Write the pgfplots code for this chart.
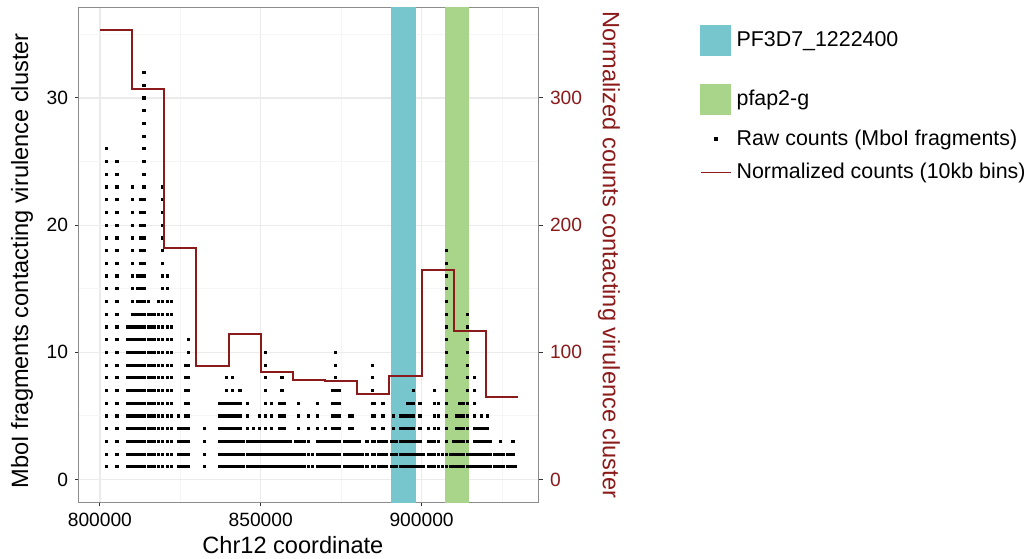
\documentclass[border=0pt]{standalone}
\usepackage{fontspec}
\setmainfont{Liberation Sans}
\usepackage{pgfplots}
\pgfplotsset{compat=1.18}
\definecolor{bandblue}{HTML}{78C6CD}
\definecolor{bandgreen}{HTML}{A9D58B}
\definecolor{normred}{HTML}{8B1A1A}
\definecolor{gridmaj}{HTML}{EBEBEB}
\definecolor{gridmin}{HTML}{F5F5F5}
\definecolor{panelborder}{HTML}{8C8C8C}
\newcommand\tickfont{\fontsize{9.6}{11}\selectfont}
\newcommand\labfont{\fontsize{11.8}{14}\selectfont}
\newcommand\legfont{\fontsize{10.7}{12.5}\selectfont}
\pgfplotsset{
  common/.style={
    at={(0pt,0pt)}, anchor=south west,
    scale only axis, width=230pt, height=247pt,
    xmin=793.5, xmax=936.5,
    tick align=outside, major tick length=2pt, minor tick length=0pt,
    tick style={color=black!80, line width=0.5pt},
    /pgf/number format/assume math mode=true,
    ticklabel style={font=\tickfont},
    axis line style={color=panelborder, line width=0.5pt},
  }
}
\begin{document}
\begin{tikzpicture}
\useasboundingbox (-39.5pt,-28pt) rectangle (478pt,251pt);
\begin{axis}[common,
  ymin=-1.77, ymax=37.07,
  xtick={800,850,900}, xticklabels={800000,850000,900000},
  minor xtick={825,875,925},
  ytick={0,10,20,30}, minor ytick={5,15,25,35},
  xtick pos=bottom, ytick pos=left,
  grid=both,
  major grid style={color=gridmaj, line width=0.6pt},
  minor grid style={color=gridmin, line width=0.4pt},
  xlabel={Chr12 coordinate},
  ylabel={MboI fragments contacting virulence cluster},
  xlabel style={font=\labfont, at={(axis description cs:0.465,-0.087)}, anchor=center},
  ylabel style={font=\labfont, at={(axis description cs:-0.124,0.488)}, anchor=center},
]
\addplot[fill=bandblue, draw=none, forget plot] coordinates {(890.6,-5)(890.6,45)(898.3,45)(898.3,-5)} -- cycle;
\addplot[fill=bandgreen, draw=none, forget plot] coordinates {(907.3,-5)(907.3,45)(914.6,45)(914.6,-5)} -- cycle;
\addplot[only marks, mark=square*, mark size=0.55pt, mark options={draw=none, fill=black}, forget plot] coordinates {
(801.9,1)(801.9,2)(801.9,3)(801.9,4)(801.9,5)(801.9,6)(801.9,7)(801.9,8)(801.9,9)(801.9,10)(801.9,11)(801.9,12)(801.9,13)(801.9,14)(801.9,15)(801.9,16)(801.9,17)(801.9,18)(801.9,19)(801.9,20)(801.9,21)(801.9,22)(801.9,23)(801.9,24)(801.9,25)(801.9,26)
(805.3,1)(805.3,2)(805.3,3)(805.3,4)(805.3,5)(805.3,6)(805.3,7)(805.3,8)(805.3,9)(805.3,10)(805.3,11)(805.3,12)(805.3,13)(805.3,14)(805.3,15)(805.3,16)(805.3,17)(805.3,18)(805.3,19)(805.3,20)(805.3,21)(805.3,22)(805.3,23)(805.3,24)(805.3,25)
(808.6,1)(808.6,2)(808.6,3)(808.6,4)(808.6,5)(808.6,6)(808.6,7)(808.6,8)(808.6,9)(808.6,10)(808.6,11)(808.6,12)
(809.3,1)(809.3,2)(809.3,3)(809.3,4)(809.3,5)(809.3,6)(809.3,7)(809.3,8)(809.3,9)(809.3,10)(809.3,11)(809.3,12)
(810.1,1)(810.1,2)(810.1,3)(810.1,4)(810.1,5)(810.1,6)(810.1,7)(810.1,8)(810.1,9)(810.1,10)(810.1,11)(810.1,12)(810.1,13)(810.1,14)(810.1,15)(810.1,16)(810.1,17)(810.1,18)(810.1,19)(810.1,20)(810.1,21)(810.1,22)(810.1,23)
(810.8,1)(810.8,2)(810.8,3)(810.8,4)(810.8,5)(810.8,6)(810.8,7)(810.8,8)(810.8,9)(810.8,10)(810.8,11)(810.8,12)(810.8,13)
(811.7,1)(811.7,2)(811.7,3)(811.7,4)(811.7,5)(811.7,6)(811.7,7)(811.7,8)(811.7,9)(811.7,10)(811.7,11)(811.7,12)(811.7,13)(811.7,14)(811.7,15)(811.7,16)
(812.5,1)(812.5,2)(812.5,3)(812.5,4)(812.5,5)(812.5,6)(812.5,7)(812.5,8)(812.5,9)(812.5,10)(812.5,11)(812.5,12)(812.5,13)(812.5,14)(812.5,15)(812.5,16)(812.5,17)(812.5,18)(812.5,19)(812.5,20)(812.5,21)(812.5,22)
(813.0,1)(813.0,2)(813.0,3)(813.0,4)(813.0,5)(813.0,6)(813.0,7)(813.0,8)(813.0,9)(813.0,10)(813.0,11)(813.0,12)(813.0,13)
(813.7,1)(813.7,2)(813.7,3)(813.7,4)(813.7,5)(813.7,6)(813.7,7)(813.7,8)(813.7,9)(813.7,10)(813.7,11)(813.7,12)(813.7,13)(813.7,14)(813.7,15)(813.7,16)(813.7,17)(813.7,18)(813.7,19)(813.7,20)(813.7,21)(813.7,22)(813.7,23)(813.7,24)(813.7,25)(813.7,26)(813.7,27)(813.7,28)(813.7,29)(813.7,30)(813.7,31)(813.7,32)
(815.0,1)(815.0,2)(815.0,3)(815.0,4)(815.0,5)(815.0,6)(815.0,7)(815.0,8)(815.0,9)(815.0,10)(815.0,11)(815.0,12)(815.0,13)(815.0,14)
(815.9,1)(815.9,2)(815.9,3)(815.9,4)(815.9,5)(815.9,6)(815.9,7)(815.9,8)(815.9,9)(815.9,10)(815.9,11)(815.9,12)(815.9,13)
(816.8,1)(816.8,2)(816.8,3)(816.8,4)(816.8,5)(816.8,6)(816.8,7)(816.8,8)(816.8,9)(816.8,10)(816.8,11)(816.8,12)(816.8,13)
(818.3,1)(818.3,2)(818.3,3)(818.3,4)(818.3,5)(818.3,6)(818.3,7)(818.3,8)(818.3,9)(818.3,10)(818.3,11)(818.3,12)(818.3,13)(818.3,14)
(819.4,1)(819.4,2)(819.4,3)(819.4,4)(819.4,5)(819.4,6)(819.4,7)(819.4,8)(819.4,9)(819.4,10)(819.4,11)(819.4,12)(819.4,13)(819.4,14)(819.4,15)(819.4,16)(819.4,17)(819.4,18)(819.4,19)(819.4,20)(819.4,21)(819.4,22)(819.4,23)
(820.9,1)(820.9,2)(820.9,3)(820.9,4)(820.9,5)(820.9,6)(820.9,7)(820.9,8)(820.9,9)(820.9,10)(820.9,11)(820.9,12)(820.9,13)(820.9,14)(820.9,15)(820.9,16)
(822.2,1)(822.2,2)(822.2,3)(822.2,4)(822.2,5)(822.2,6)(822.2,7)(822.2,8)(822.2,9)(822.2,10)(822.2,11)(822.2,12)(822.2,13)(822.2,14)
(824.3,1)(824.3,2)(824.3,3)(824.3,4)(824.3,5)
(825.5,1)(825.5,2)(825.5,3)(825.5,4)
(826.5,1)(826.5,2)(826.5,3)(826.5,4)(826.5,5)(826.5,6)(826.5,7)(826.5,8)(826.5,9)
(827.4,1)(827.4,2)(827.4,3)(827.4,4)(827.4,5)(827.4,6)(827.4,7)(827.4,8)(827.4,9)(827.4,10)(827.4,11)
(832.4,1)(832.4,2)(832.4,3)(832.4,4)
(837.3,1)(837.3,2)(837.3,3)(837.3,4)(837.3,5)(837.3,6)
(838.4,1)(838.4,2)(838.4,3)(838.4,4)(838.4,5)(838.4,6)
(839.4,1)(839.4,2)(839.4,3)(839.4,4)(839.4,5)(839.4,6)(839.4,7)(839.4,8)
(840.3,1)(840.3,2)(840.3,3)(840.3,4)(840.3,5)(840.3,6)
(841.2,1)(841.2,2)(841.2,3)(841.2,4)(841.2,5)(841.2,6)(841.2,7)(841.2,8)
(842.3,1)(842.3,2)(842.3,3)(842.3,4)(842.3,5)(842.3,6)
(843.5,1)(843.5,2)(843.5,3)(843.5,4)(843.5,5)(843.5,6)(843.5,7)
(844.7,1)(844.7,2)(844.7,3)
(845.8,1)(845.8,2)(845.8,3)(845.8,4)(845.8,5)(845.8,6)
(846.7,1)(846.7,2)(846.7,3)
(847.6,1)(847.6,2)(847.6,3)(847.6,4)
(848.6,1)(848.6,2)(848.6,3)
(849.7,1)(849.7,2)(849.7,3)(849.7,4)(849.7,5)
(850.6,1)(850.6,2)(850.6,3)
(851.4,1)(851.4,2)(851.4,3)(851.4,4)(851.4,5)(851.4,6)(851.4,7)(851.4,8)(851.4,9)(851.4,10)
(852.3,1)(852.3,2)(852.3,3)
(853.3,1)(853.3,2)(853.3,3)(853.3,4)(853.3,5)(853.3,6)
(854.1,1)(854.1,2)(854.1,3)
(855.1,1)(855.1,2)(855.1,3)
(855.8,1)(855.8,2)(855.8,3)(855.8,4)(855.8,5)(855.8,6)
(856.6,1)(856.6,2)(856.6,3)(856.6,4)(856.6,5)(856.6,6)(856.6,7)(856.6,8)
(857.4,1)(857.4,2)(857.4,3)(857.4,4)(857.4,5)(857.4,6)
(858.3,1)(858.3,2)(858.3,3)
(859.2,1)(859.2,2)(859.2,3)
(860.1,1)(860.1,2)
(860.9,1)(860.9,2)(860.9,3)
(861.7,1)(861.7,2)(861.7,3)(861.7,4)(861.7,5)(861.7,6)
(862.6,1)(862.6,2)(862.6,3)
(863.5,1)(863.5,2)(863.5,3)
(864.9,1)(864.9,2)(864.9,3)(864.9,4)(864.9,5)
(866.0,1)(866.0,2)
(867.6,1)(867.6,2)(867.6,3)(867.6,4)(867.6,5)(867.6,6)
(868.5,1)(868.5,2)(868.5,3)
(869.4,1)(869.4,2)(869.4,3)
(870.2,1)(870.2,2)(870.2,3)(870.2,4)
(871.2,1)(871.2,2)(871.2,3)
(872.3,1)(872.3,2)(872.3,3)(872.3,4)(872.3,5)(872.3,6)(872.3,7)
(873.3,1)(873.3,2)(873.3,3)(873.3,4)(873.3,5)(873.3,6)(873.3,7)(873.3,8)(873.3,9)(873.3,10)
(874.3,1)(874.3,2)(874.3,3)(874.3,4)(874.3,5)(874.3,6)(874.3,7)
(875.9,1)(875.9,2)(875.9,3)
(876.8,1)(876.8,2)(876.8,3)
(877.6,1)(877.6,2)(877.6,3)(877.6,4)(877.6,5)
(878.5,1)(878.5,2)(878.5,3)(878.5,4)(878.5,5)
(879.6,1)(879.6,2)(879.6,3)
(880.5,1)(880.5,2)(880.5,3)
(881.7,1)(881.7,2)
(883.0,1)(883.0,2)(883.0,3)
(884.6,1)(884.6,2)(884.6,3)(884.6,4)(884.6,5)(884.6,6)(884.6,7)(884.6,8)(884.6,9)
(885.4,1)(885.4,2)(885.4,3)(885.4,4)(885.4,5)(885.4,6)
(886.7,1)(886.7,2)(886.7,3)
(888.0,1)(888.0,2)(888.0,3)(888.0,4)(888.0,5)(888.0,6)
(889.1,1)(889.1,2)(889.1,3)
(890.7,1)(890.7,2)(890.7,3)
(891.3,1)(891.3,2)(891.3,3)(891.3,4)(891.3,5)
(892.2,1)(892.2,2)(892.2,3)
(893.4,1)(893.4,2)(893.4,3)(893.4,4)(893.4,5)
(894.1,1)(894.1,2)(894.1,3)(894.1,4)(894.1,5)
(894.8,1)(894.8,2)(894.8,3)(894.8,4)(894.8,5)
(895.6,1)(895.6,2)(895.6,3)(895.6,4)(895.6,5)(895.6,6)
(896.4,1)(896.4,2)(896.4,3)(896.4,4)(896.4,5)(896.4,6)
(897.0,1)(897.0,2)(897.0,3)(897.0,4)(897.0,5)
(897.5,1)(897.5,2)(897.5,3)(897.5,4)(897.5,5)(897.5,6)(897.5,7)
(898.4,1)(898.4,2)(898.4,3)
(899.5,1)(899.5,2)(899.5,3)(899.5,4)(899.5,5)(899.5,6)
(900.5,1)(900.5,2)
(902.1,1)(902.1,2)(902.1,3)(902.1,4)
(903.1,1)(903.1,2)(903.1,3)
(904.1,1)(904.1,2)(904.1,3)(904.1,4)(904.1,5)(904.1,6)(904.1,7)
(905.2,1)(905.2,2)(905.2,3)(905.2,4)(905.2,5)(905.2,6)
(906.4,1)(906.4,2)
(907.7,1)(907.7,2)(907.7,3)(907.7,4)(907.7,5)(907.7,6)(907.7,7)(907.7,8)(907.7,9)(907.7,10)(907.7,11)(907.7,12)(907.7,13)(907.7,14)(907.7,15)(907.7,16)(907.7,17)(907.7,18)
(908.9,1)(908.9,2)
(909.8,1)(909.8,2)(909.8,3)
(910.7,1)(910.7,2)(910.7,3)(910.7,4)(910.7,5)
(911.9,1)(911.9,2)(911.9,3)(911.9,4)(911.9,5)(911.9,6)
(912.9,1)(912.9,2)(912.9,3)(912.9,4)(912.9,5)(912.9,6)
(914.2,1)(914.2,2)(914.2,3)(914.2,4)(914.2,5)(914.2,6)(914.2,7)(914.2,8)(914.2,9)(914.2,10)(914.2,11)(914.2,12)(914.2,13)
(915.3,1)(915.3,2)
(916.5,1)(916.5,2)(916.5,3)(916.5,4)(916.5,5)(916.5,6)(916.5,7)(916.5,8)
(917.5,1)(917.5,2)(917.5,3)(917.5,4)
(918.5,1)(918.5,2)(918.5,3)(918.5,4)(918.5,5)
(919.5,1)(919.5,2)(919.5,3)(919.5,4)
(920.4,1)(920.4,2)(920.4,3)(920.4,4)(920.4,5)
(921.5,1)(921.5,2)(921.5,3)
(922.7,1)(922.7,2)
(923.7,1)(923.7,2)
(924.5,1)(924.5,2)(924.5,3)
(925.5,1)(925.5,2)
(926.7,1)(926.7,2)
(927.7,1)(927.7,2)
(928.4,1)(928.4,2)(928.4,3)
(929.2,1)
};
\end{axis}
\begin{axis}[common,
  ymin=-17.7, ymax=370.7,
  hide x axis, axis y line*=right,
  ytick={0,100,200,300},
  yticklabel style={color=normred},
  ylabel={Normalized counts contacting virulence cluster},
  ylabel style={font=\labfont, color=normred, at={(axis description cs:1.152,0.5)}, anchor=center, rotate=180},
  legend cell align=left,
  legend style={at={(axis description cs:1.35,0.9919)}, anchor=north west, draw=none, fill=none,
    inner sep=0pt, outer sep=0pt, row sep=7.5pt, column sep=2.5pt, font=\legfont, nodes={inner sep=0pt}},
]
\addlegendimage{legend image code/.code={\fill[bandblue] (0pt,-7.5pt) rectangle (15pt,7.5pt); \path (0pt,-14pt) (0pt,14pt);}}
\addlegendentry{PF3D7\_1222400}
\addlegendimage{legend image code/.code={\fill[bandgreen] (0pt,-7.5pt) rectangle (15pt,7.5pt);}}
\addlegendentry{pfap2-g}
\addlegendimage{legend image code/.code={\fill[black] (6.75pt,-0.75pt) rectangle (8.25pt,0.75pt); \path (0pt,0pt) (15pt,0pt);}}
\addlegendentry{Raw counts (MboI fragments)}
\addplot[normred, line width=1pt, const plot,
  legend image code/.code={\draw[normred, line width=0.8pt] (0pt,0pt) -- (15pt,0pt);}] coordinates {
(800,353.5)(810,307)(820,182)(830,89)(840,114)(850,84.5)(860,78.5)(870,77.4)(880,67.5)(890,81)(900,165)(910,117)(920,65)(930,65)
};
\addlegendentry{Normalized counts (10kb bins)}
\end{axis}
\end{tikzpicture}
\end{document}
